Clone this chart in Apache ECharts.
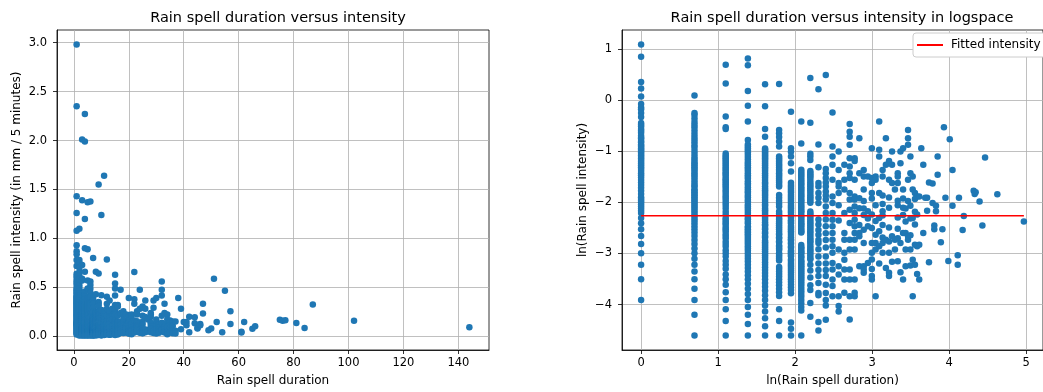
<!DOCTYPE html>
<html><head><meta charset="utf-8">
<script src="https://cdn.jsdelivr.net/npm/echarts@6/dist/echarts.min.js"></script>
<style>html,body{margin:0;padding:0;background:#fff}#c{width:1043px;height:392px}</style>
</head><body><div id="c"></div>
<script>
// Rain spell durations (number of 5-minute steps)
const durations = [1,2,3,4,5,6,7,8,9,10,11,12,13,14,15,16,17,18,19,20,21,22,23,24,25,26,27,28,29,30,31,32,33,34,35,36,37,38,39,40,41,42,44,45,46,47,49,50,51,52,54,55,57,61,62,65,66,75,76,77,81,84,87,102,144];
// Intensities (mm / 5 minutes) observed for each duration above
const intensities = [
 [2.98,2.35,1.43,1.26,1.08,0.93,0.87,0.84,0.78,0.72,0.64,0.62,0.6,0.57,0.55,0.53,0.5,0.48,0.47,0.45,0.44,0.42,0.41,0.4,0.39,0.38,0.37,0.36,0.35,0.34,0.33,0.32,0.31,0.3,0.29,0.28,0.27,0.26,0.25,0.24,0.23,0.22,0.21,0.2,0.19,0.18,0.17,0.16,0.15,0.145,0.14,0.135,0.13,0.125,0.12,0.115,0.11,0.1,0.09,0.08,0.07,0.06,0.05,0.04,0.03,0.02],
 [1.1,0.78,0.75,0.7,0.655,0.62,0.59,0.555,0.52,0.49,0.465,0.44,0.415,0.395,0.37,0.35,0.33,0.315,0.3,0.29,0.28,0.27,0.26,0.25,0.24,0.23,0.22,0.21,0.2,0.19,0.185,0.175,0.17,0.165,0.16,0.155,0.15,0.145,0.14,0.135,0.13,0.125,0.12,0.115,0.11,0.105,0.1,0.095,0.09,0.085,0.08,0.075,0.07,0.065,0.06,0.055,0.05,0.045,0.04,0.035,0.03,0.025,0.02,0.015,0.01],
 [2.01,1.39,0.73,0.59,0.57,0.353,0.34,0.33,0.32,0.31,0.3,0.29,0.28,0.27,0.26,0.253,0.243,0.237,0.23,0.22,0.213,0.207,0.2,0.193,0.187,0.18,0.173,0.167,0.16,0.153,0.147,0.14,0.133,0.127,0.12,0.113,0.107,0.1,0.097,0.093,0.09,0.087,0.083,0.08,0.077,0.073,0.07,0.067,0.063,0.06,0.057,0.053,0.05,0.047,0.043,0.04,0.037,0.033,0.03,0.027,0.0233,0.02,0.0167,0.0133,0.01],
 [2.27,1.99,1.2,0.9,0.66,0.46,0.42,0.405,0.39,0.375,0.36,0.345,0.33,0.315,0.3,0.29,0.28,0.27,0.26,0.25,0.24,0.23,0.2225,0.215,0.205,0.1975,0.19,0.1825,0.175,0.1675,0.1625,0.155,0.15,0.1425,0.1375,0.13,0.125,0.12,0.115,0.11,0.105,0.1,0.0975,0.0925,0.09,0.085,0.0825,0.08,0.0775,0.075,0.0725,0.07,0.0675,0.065,0.0625,0.06,0.0575,0.055,0.0525,0.05,0.0475,0.045,0.0425,0.04,0.0375,0.035,0.0325,0.03,0.0275,0.025,0.0225,0.02,0.0175,0.015,0.0125,0.01],
 [1.37,0.89,0.57,0.49,0.39,0.38,0.37,0.36,0.35,0.34,0.33,0.32,0.31,0.3,0.29,0.28,0.27,0.26,0.25,0.24,0.23,0.22,0.21,0.2,0.194,0.186,0.178,0.172,0.166,0.16,0.154,0.148,0.142,0.136,0.13,0.126,0.12,0.116,0.112,0.108,0.104,0.1,0.096,0.092,0.088,0.086,0.082,0.08,0.076,0.074,0.07,0.068,0.064,0.062,0.06,0.058,0.056,0.054,0.052,0.05,0.048,0.046,0.044,0.042,0.04,0.038,0.036,0.034,0.032,0.03,0.028,0.026,0.024,0.022,0.02,0.018,0.016,0.014,0.012,0.01],
 [1.3767,0.56,0.525,0.4867,0.4467,0.405,0.3333,0.3217,0.31,0.3,0.2883,0.2783,0.2683,0.2583,0.25,0.24,0.2317,0.2233,0.215,0.2067,0.2,0.1917,0.185,0.1567,0.1483,0.14,0.1317,0.125,0.1133,0.1083,0.105,0.1,0.0967,0.0933,0.09,0.0867,0.0833,0.08,0.0767,0.0733,0.0717,0.0683,0.0667,0.0633,0.0617,0.0583,0.0567,0.055,0.0533,0.05,0.0483,0.0467,0.045,0.0433,0.0383,0.0367,0.035,0.0333,0.0317,0.03,0.0283,0.0267,0.025,0.0233,0.0217,0.0167,0.0133,0.01],
 [0.8,0.3914,0.3657,0.3329,0.2914,0.2486,0.1986,0.19,0.1843,0.1771,0.17,0.1643,0.1571,0.1514,0.1457,0.14,0.1343,0.1286,0.1243,0.12,0.1157,0.1114,0.1071,0.1029,0.1,0.0957,0.0929,0.09,0.0857,0.0829,0.08,0.0771,0.0743,0.0714,0.0686,0.0657,0.0643,0.0614,0.06,0.0571,0.0557,0.0529,0.0514,0.05,0.0486,0.0471,0.0443,0.0429,0.0414,0.04,0.0386,0.0371,0.0357,0.0343,0.0329,0.0314,0.03,0.0286,0.0271,0.0257,0.0243,0.0229,0.0129,0.0114,0.01],
 [0.66,0.43,0.2563,0.2463,0.2375,0.2288,0.22,0.2113,0.2038,0.1963,0.19,0.1825,0.1763,0.17,0.1638,0.1575,0.1525,0.1463,0.1413,0.1363,0.1313,0.1263,0.1225,0.1175,0.1138,0.11,0.105,0.1013,0.0975,0.0938,0.09,0.0875,0.085,0.0813,0.0788,0.0763,0.075,0.0588,0.0563,0.055,0.0525,0.0513,0.05,0.0475,0.0463,0.0438,0.0425,0.0413,0.04,0.0388,0.0375,0.0363,0.035,0.0338,0.0325,0.0313,0.03,0.0288,0.0275,0.0263,0.025,0.0238,0.0225,0.0213,0.02,0.0188,0.0175,0.0163,0.01],
 [1.55,0.6433,0.3511,0.3333,0.3111,0.25,0.2422,0.2344,0.2267,0.22,0.21,0.2,0.1922,0.1856,0.1778,0.1711,0.1633,0.1556,0.15,0.1444,0.1389,0.1344,0.1133,0.1089,0.1056,0.1011,0.0967,0.0933,0.09,0.0867,0.0833,0.08,0.0767,0.0744,0.0711,0.0678,0.0656,0.0633,0.0611,0.0578,0.0556,0.0533,0.0522,0.05,0.0478,0.0456,0.0444,0.04,0.0356,0.0311,0.0267,0.0244,0.0189,0.0144],
 [1.24,0.42,0.27,0.198,0.185,0.163,0.148,0.134,0.097,0.088,0.079,0.072,0.065,0.061,0.054,0.047,0.041,0.036,0.032,0.028,0.023,0.022,0.013,0.011],
 [1.64,0.26,0.24,0.218,0.2,0.185,0.168,0.155,0.143,0.125,0.11,0.097,0.085,0.074,0.065,0.056,0.047,0.041,0.036,0.032,0.027,0.023,0.02,0.018,0.0136],
 [0.786,0.405,0.333,0.283,0.211,0.152,0.134,0.11,0.0966,0.0848,0.0744,0.0653,0.0574,0.0504,0.0414,0.0364,0.0299,0.0263,0.0216],
 [0.367,0.256,0.198,0.185,0.163,0.128,0.095,0.0538,0.0388,0.033,0.0216,0.0178,0.016],
 [0.283,0.211,0.174,0.11,0.0744,0.0653,0.0504,0.0441,0.0364,0.0299,0.0231],
 [0.63,0.54,0.49,0.418,0.322,0.274,0.24,0.218,0.163,0.143,0.117,0.0905,0.0653,0.0538,0.0364,0.0299,0.0216,0.0137],
 [0.322,0.305,0.211,0.152,0.143,0.125,0.11,0.0966,0.0848,0.0744,0.0653,0.0538,0.0299,0.0231,0.0216],
 [0.476,0.24,0.147,0.121,0.087,0.0744,0.0697,0.0388],
 [0.256,0.225,0.174,0.139,0.12,0.106,0.0794,0.0612,0.0388,0.0364,0.0341],
 [0.225,0.114,0.099,0.0848,0.0414],
 [0.392,0.218,0.198,0.163,0.146,0.107,0.082,0.0612,0.0504,0.0442,0.0367,0.032,0.0299],
 [0.225,0.211,0.128,0.094,0.072,0.0612,0.0538,0.0216],
 [0.659,0.379,0.333,0.163,0.1,0.077,0.0574,0.0409],
 [0.256,0.225,0.155,0.131,0.114,0.105,0.087,0.068,0.0612,0.0504],
 [0.476,0.283,0.0653,0.0375],
 [0.305,0.292,0.211,0.149,0.122,0.083,0.063,0.0504,0.0341,0.032],
 [0.367,0.283,0.198,0.0697,0.0423],
 [0.174,0.0653,0.0538],
 [0.24,0.225,0.198,0.14,0.128,0.101,0.081,0.067,0.0428],
 [0.367,0.292,0.0612,0.0345],
 [0.392,0.174,0.146,0.122,0.106,0.0744,0.0299],
 [0.12,0.093,0.0744,0.0538,0.0387],
 [0.56,0.476,0.418,0.211,0.139,0.0697,0.0653],
 [0.333,0.24,0.127,0.099,0.071,0.0538,0.0394],
 [0.225,0.174,0.1,0.0441,0.0216],
 [0.163,0.145,0.113,0.088,0.059,0.04],
 [0.152,0.107,0.0574,0.0333],
 [0.152,0.059,0.0299],
 [0.392],
 [0.283,0.0744],
 [0.148],
 [0.148,0.115],
 [0.2,0.042],
 [0.196,0.134],
 [0.086,0.08],
 [0.127,0.114],
 [0.333,0.233],
 [0.062],
 [0.08],
 [0.59],
 [0.148],
 [0.043],
 [0.467],
 [0.256,0.127],
 [0.048,0.04],
 [0.148],
 [0.079],
 [0.104],
 [0.17],
 [0.16],
 [0.165],
 [0.138],
 [0.086],
 [0.327],
 [0.159],
 [0.093]
];
const fittedLnIntensity = -2.26;
const leftXTicks = [0,20,40,60,80,100,120,140];
const leftYTicks = [0,0.5,1,1.5,2,2.5,3];
const rightXTicks = [0,1,2,3,4,5];
const rightYTicks = [-4,-3,-2,-1,0,1];

const linPts = [], logPts = [];
durations.forEach((d, i) => intensities[i].forEach(v => {
  linPts.push([d, v]);
  logPts.push([Math.log(d), Math.log(v)]);
}));
const lnMin = Math.log(Math.min(...durations));
const lnMax = Math.log(Math.max(...durations));

const FONT = 'DejaVu Sans';
const minus = s => String(s).replace('-', '\u2212');
function axis(ticks, fmt, labelMargin, extra) {
  return Object.assign({
    type: 'value',
    axisLine: {show: true, onZero: false, lineStyle: {color: '#000', width: 0.8}},
    axisTick: {show: true, inside: false, length: 4, lineStyle: {color: '#000', width: 0.8}, customValues: ticks},
    axisLabel: {customValues: ticks, formatter: fmt, color: '#000', fontFamily: FONT, fontSize: 11.5, margin: labelMargin},
    splitLine: {show: true, lineStyle: {color: '#b0b0b0', width: 0.8}},
    nameTextStyle: {color: '#000', fontFamily: FONT, fontSize: 12},
    nameLocation: 'middle'
  }, extra);
}

const chart = echarts.init(document.getElementById('c'), null, {renderer: 'canvas'});
chart.setOption({
  animation: false,
  backgroundColor: '#fff',
  title: [
    {text: 'Rain spell duration versus intensity', left: 273, top: 6, textAlign: 'center',
     textStyle: {fontFamily: FONT, fontSize: 14.5, fontWeight: 'normal', color: '#000'}},
    {text: 'Rain spell duration versus intensity in logspace', left: 837, top: 6, textAlign: 'center',
     textStyle: {fontFamily: FONT, fontSize: 14.5, fontWeight: 'normal', color: '#000'}}
  ],
  legend: {
    data: [{name: 'Fitted intensity', icon: 'rect'}], left: 913, top: 33, itemWidth: 26, itemHeight: 2, itemGap: 8,
    padding: [6, 8, 6, 4], borderColor: '#ccc', borderWidth: 1, borderRadius: 3, backgroundColor: '#fff',
    textStyle: {fontFamily: FONT, fontSize: 12, color: '#000', padding: [0, 0, 0, 3]}
  },
  grid: [
    {left: 57, right: 554, top: 30, bottom: 41, show: true, borderColor: '#000', borderWidth: 0.8, containLabel: false},
    {left: 622, right: -7, top: 30, bottom: 41, show: true, borderColor: '#000', borderWidth: 0.8, containLabel: false}
  ],
  xAxis: [
    axis(leftXTicks, v => String(v), 7, {gridIndex: 0, min: -6.15, max: 151.15, name: 'Rain spell duration', nameGap: 25}),
    axis(rightXTicks, v => String(v), 7, {gridIndex: 1, min: -0.248, max: 5.218, name: 'ln(Rain spell duration)', nameGap: 25})
  ],
  yAxis: [
    axis(leftYTicks, v => v.toFixed(1), 10, {gridIndex: 0, min: -0.1385, max: 3.1285, name: 'Rain spell intensity (in mm / 5 minutes)', nameGap: 34}),
    axis(rightYTicks, v => minus(v), 10, {gridIndex: 1, min: -4.89, max: 1.377, name: 'ln(Rain spell intensity)', nameGap: 33})
  ],
  series: [
    {type: 'scatter', xAxisIndex: 0, yAxisIndex: 0, data: linPts, symbolSize: 6.5,
     itemStyle: {color: '#1f77b4', opacity: 1}, silent: true},
    {type: 'scatter', xAxisIndex: 1, yAxisIndex: 1, data: logPts, symbolSize: 6.5,
     itemStyle: {color: '#1f77b4', opacity: 1}, silent: true},
    {type: 'line', name: 'Fitted intensity', xAxisIndex: 1, yAxisIndex: 1, symbol: 'none',
     data: [[lnMin, fittedLnIntensity], [lnMax, fittedLnIntensity]],
     lineStyle: {color: '#ff0000', width: 1.5}, itemStyle: {color: '#ff0000'}, silent: true, z: 5}
  ]
});
</script></body></html>
